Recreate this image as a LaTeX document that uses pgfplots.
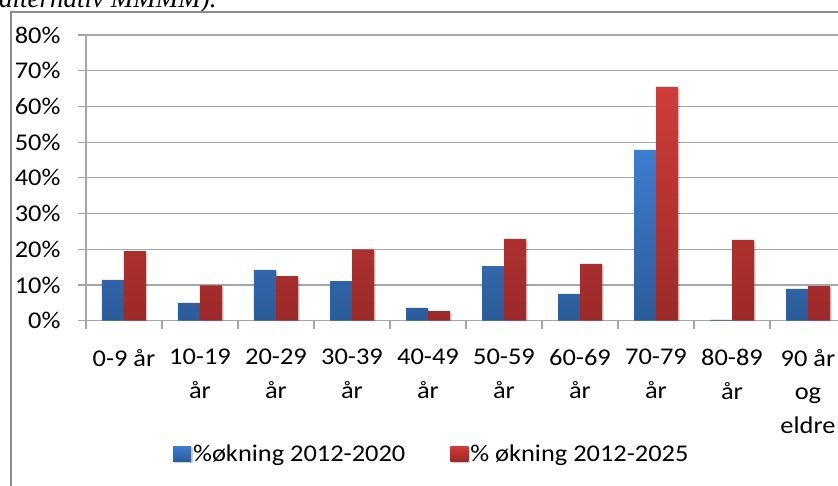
\documentclass[border=0pt]{standalone}
\usepackage{pgfplots}
\pgfplotsset{compat=1.18}
\usetikzlibrary{shadows}
\usepackage{fontspec}
\setmainfont{Carlito}[FakeStretch=1.1]
\newfontfamily\capfont{Liberation Serif}
\definecolor{bluetop}{HTML}{3D7ECF}
\definecolor{bluebot}{HTML}{2C5C9A}
\definecolor{redtop}{HTML}{D03D3A}
\definecolor{redbot}{HTML}{9C2A28}
\definecolor{gridc}{HTML}{A6A6A6}
\definecolor{framec}{HTML}{8C8C8C}
\pgfplotstableread{
x a b
0 11.4 19.5
1 5.0 9.9
2 14.2 12.5
3 11.1 20.0
4 3.6 2.7
5 15.3 22.9
6 7.5 15.9
7 47.8 65.5
8 0.2 22.6
9 8.9 9.7
}\datatable
\begin{document}
\begin{tikzpicture}
\useasboundingbox (-86pt,-165.3pt) rectangle (752pt,320.7pt);
\node[anchor=base west, inner sep=0pt, font=\capfont\itshape\fontsize{27}{30}\selectfont] at (-87pt,312.7pt) {alternativ MMMM).};
\draw[framec, line width=1.2pt] (-75pt,-200pt) rectangle (900pt,308.7pt);
\begin{axis}[
  scale only axis, width=760pt, height=285.7pt,
  xmin=-0.5, xmax=9.5, ymin=0, ymax=80,
  ybar=0pt, bar width=22pt,
  axis x line*=bottom, axis y line*=left,
  axis line style={gridc, line width=1.2pt},
  ymajorgrids, major grid style={gridc, line width=1.2pt},
  tick align=outside,
  xtick={0,...,9},
  xticklabels={{0-9 år},{10-19\\år},{20-29\\år},{30-39\\år},{40-49\\år},{50-59\\år},{60-69\\år},{70-79\\år},{80-89\\år},{90 år\\og\\eldre}},
  major x tick style={draw=none},
  minor xtick={-0.5,0.5,...,9.5},
  minor tick length=8pt,
  minor x tick style={gridc, line width=1.2pt},
  ytick={0,10,...,80},
  major tick length=8pt,
  major y tick style={gridc, line width=1.2pt},
  /pgf/number format/assume math mode=true,
  yticklabel={\pgfmathprintnumber{\tick}\%},
  tick label style={font=\fontsize{24}{33.5}\selectfont, text=black},
  yticklabel style={anchor=east, xshift=-14pt},
  xticklabel style={align=center, anchor=north, yshift=-17pt},
  legend style={at={(0.455,-0.4666)}, anchor=center, draw=none, fill=none,
    legend columns=2, font=\fontsize{24}{28}\selectfont,
    /tikz/every even column/.append style={column sep=43pt}},
  legend image code/.code={\path[#1, draw=none] (0pt,-7pt) rectangle (18pt,8pt);},
  every axis plot/.append style={drop shadow={shadow xshift=1.5pt, shadow yshift=-1.5pt, opacity=0.18}},
]
\addplot[draw=none, top color=bluetop, bottom color=bluebot] table[x=x, y=a] {\datatable};
\addplot[draw=none, top color=redtop, bottom color=redbot] table[x=x, y=b] {\datatable};
\legend{\%økning 2012-2020, \% økning 2012-2025}
\end{axis}
\end{tikzpicture}
\end{document}
